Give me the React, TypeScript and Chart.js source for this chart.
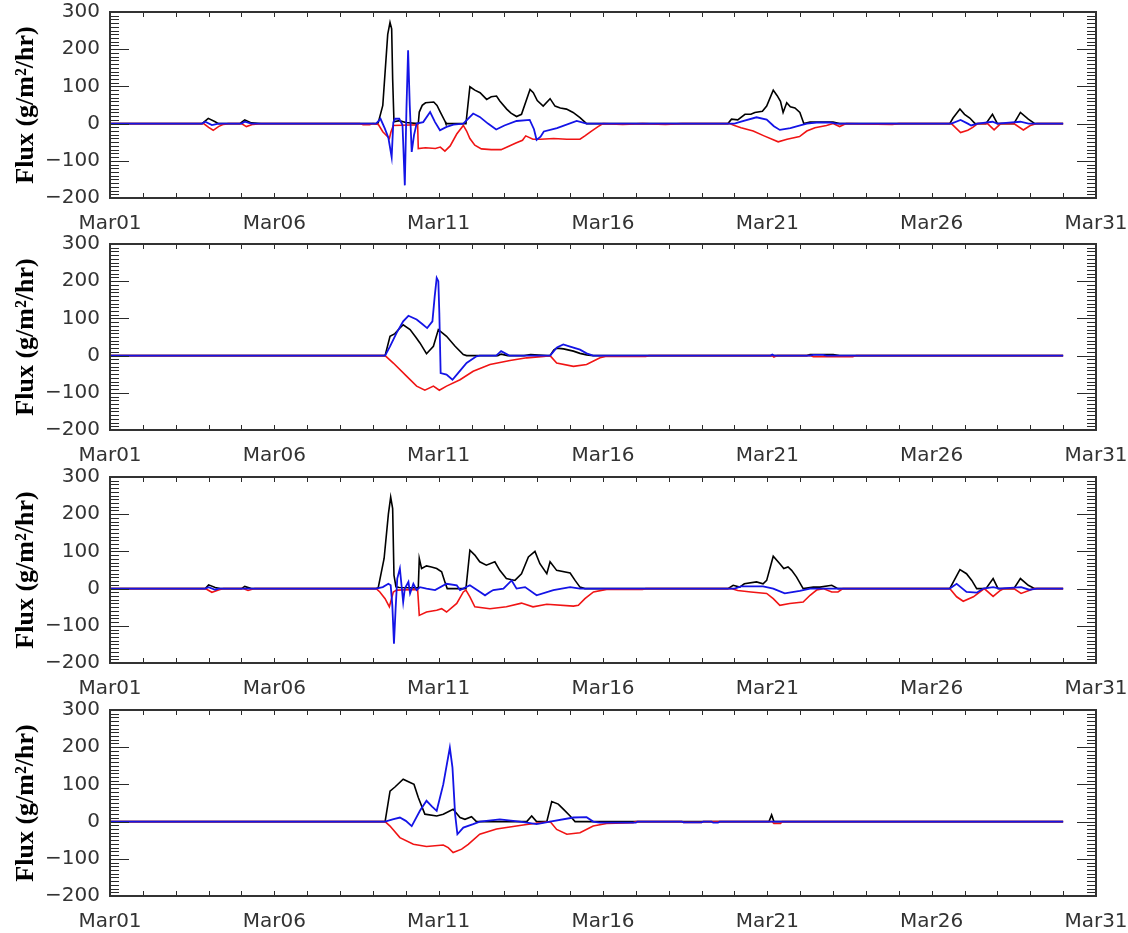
import React, { useEffect, useRef } from "react";
import { Chart, registerables } from "chart.js";

Chart.register(...registerables);

type Pt = [number, number];

// x in days after Mar01 00:00
const xTickDays = [0, 5, 10, 15, 20, 25, 30];
const xTickLabels = ["Mar01", "Mar06", "Mar11", "Mar16", "Mar21", "Mar26", "Mar31"];
const yTickValues = [-200, -100, 0, 100, 200, 300];
const yTickLabels = ["\u2212200", "\u2212100", "0", "100", "200", "300"];
const yTitle = "Flux (g/m\u00B2/hr)";

// ---------- Panel 1 ----------
const panel1Black: Pt[] = [[0,0],[2.8,0],[2.99,14],[3.2,5],[3.3,0],[3.95,0],[4.1,10],[4.3,2],[4.6,0],[8.1,0],[8.16,2],[8.3,49],[8.45,240],[8.52,272],[8.57,255],[8.6,120],[8.64,5],[8.8,8],[9.0,3],[9.38,0],[9.41,31],[9.5,49],[9.6,56],[9.85,58],[9.95,49],[10.05,31],[10.2,5],[10.22,0],[10.83,0],[10.95,99],[11.1,90],[11.26,83],[11.46,65],[11.6,72],[11.76,74],[11.86,61],[12.07,39],[12.2,28],[12.37,19],[12.52,25],[12.78,92],[12.88,83],[13.0,62],[13.18,47],[13.39,67],[13.54,47],[13.7,42],[13.89,39],[14.09,30],[14.3,16],[14.5,0],[18.8,0],[18.91,12],[19.1,10],[19.32,25],[19.5,25],[19.62,30],[19.85,33],[19.98,47],[20.18,90],[20.3,75],[20.4,60],[20.48,30],[20.59,56],[20.7,45],[20.84,42],[20.99,30],[21.05,15],[21.11,0],[21.3,4],[22.0,4],[22.2,0],[25.55,0],[25.65,15],[25.86,39],[26.0,25],[26.16,15],[26.32,0],[26.65,0],[26.85,25],[27.0,0],[27.5,0],[27.7,30],[27.94,12],[28.14,0],[29,0]];
const panel1Red: Pt[] = [[0,0],[2.85,0],[3.0,-10],[3.14,-18],[3.3,-8],[3.45,-2],[3.6,0],[4.0,0],[4.15,-8],[4.35,-2],[4.6,0],[7.6,0],[7.7,-3],[7.9,-3],[8.0,0],[8.16,-2],[8.3,-22],[8.5,-40],[8.55,-22],[8.62,-5],[9.36,-3],[9.38,-67],[9.6,-65],[9.9,-67],[10.05,-63],[10.19,-74],[10.35,-60],[10.55,-28],[10.75,-5],[10.85,-20],[10.95,-40],[11.1,-58],[11.3,-68],[11.6,-70],[11.9,-70],[12.1,-62],[12.35,-52],[12.55,-45],[12.65,-33],[12.87,-42],[13.1,-42],[13.5,-40],[13.9,-42],[14.3,-42],[14.45,-33],[14.65,-20],[14.85,-8],[15.0,0],[15.6,-2],[16.2,0],[16.9,-2],[17.4,0],[18.85,0],[19.0,-5],[19.2,-11],[19.57,-20],[19.9,-33],[20.33,-49],[20.6,-42],[20.98,-35],[21.2,-20],[21.45,-11],[21.8,-5],[22.0,0],[22.2,-8],[22.4,0],[23.8,-2],[24.0,0],[25.6,0],[25.88,-24],[26.1,-18],[26.25,-10],[26.4,0],[26.7,0],[26.9,-17],[27.1,0],[27.5,0],[27.79,-17],[28.0,-5],[28.2,0],[29,0]];
const panel1Blue: Pt[] = [[0,0],[2.8,0],[2.9,5],[3.1,-4],[3.3,0],[4.0,0],[4.1,5],[4.3,0],[8.1,0],[8.23,13],[8.36,-13],[8.47,-38],[8.57,-90],[8.62,3],[8.67,13],[8.8,13],[8.9,-4],[8.97,-166],[9.02,40],[9.07,197],[9.12,50],[9.18,-76],[9.25,-31],[9.33,0],[9.53,4],[9.74,31],[9.89,4],[10.04,-18],[10.24,-9],[10.45,-3],[10.75,0],[11.05,27],[11.25,18],[11.5,0],[11.75,-16],[12.0,-5],[12.37,7],[12.77,10],[12.9,-15],[12.98,-44],[13.1,-35],[13.2,-21],[13.6,-12],[14.2,7],[14.5,0],[19.0,0],[19.2,5],[19.67,17],[19.98,11],[20.2,-7],[20.38,-17],[20.7,-12],[21.0,-5],[21.2,0],[21.5,3],[21.9,3],[22.1,0],[25.6,0],[25.88,10],[26.1,0],[26.2,-5],[26.4,0],[26.85,5],[27.0,0],[27.7,5],[27.95,0],[29,0]];

// ---------- Panel 2 ----------
const panel2Black: Pt[] = [[0,0],[8.37,0],[8.52,52],[8.67,59],[8.8,72],[8.92,83],[9.13,70],[9.3,50],[9.43,34],[9.63,5],[9.84,25],[9.99,70],[10.1,62],[10.24,52],[10.5,25],[10.75,3],[10.85,0],[11.8,0],[11.9,4],[12.1,0],[12.6,0],[12.8,3],[13.3,0],[13.39,0],[13.5,15],[13.59,20],[13.8,18],[14.1,12],[14.3,6],[14.5,2],[14.7,0],[21.2,0],[21.3,3],[22.0,3],[22.2,0],[29,0]];
const panel2Red: Pt[] = [[0,0],[8.37,0],[8.62,-20],[9.03,-56],[9.33,-82],[9.58,-93],[9.84,-82],[10.02,-93],[10.24,-82],[10.65,-65],[11.05,-42],[11.56,-24],[12.17,-13],[12.68,-6],[13.2,-2],[13.39,0],[13.59,-20],[14.1,-29],[14.5,-24],[14.91,-6],[15.11,-2],[16.3,-2],[16.4,0],[20.15,0],[20.2,-4],[20.3,0],[21.3,0],[21.4,-3],[22.6,-3],[22.7,0],[29,0]];
const panel2Blue: Pt[] = [[0,0],[8.37,0],[8.52,25],[8.72,61],[8.92,92],[9.08,107],[9.33,97],[9.5,85],[9.65,74],[9.81,92],[9.88,160],[9.94,209],[9.99,200],[10.02,115],[10.06,-47],[10.24,-51],[10.42,-65],[10.59,-47],[10.85,-20],[11.15,-2],[11.25,0],[11.75,0],[11.9,12],[12.15,0],[13.39,0],[13.6,22],[13.79,30],[14.0,24],[14.3,16],[14.5,6],[14.7,0],[20.1,0],[20.15,3],[20.2,0],[21.3,0],[21.4,2],[21.7,2],[21.8,0],[29,0]];

// ---------- Panel 3 ----------
const panel3Black: Pt[] = [[0,0],[2.9,0],[3.0,10],[3.2,3],[3.35,0],[4.0,0],[4.1,6],[4.3,0],[8.1,0],[8.16,2],[8.34,81],[8.47,200],[8.54,246],[8.6,215],[8.64,36],[8.7,5],[8.8,3],[9.38,2],[9.41,81],[9.48,54],[9.63,61],[9.78,58],[9.94,54],[10.09,45],[10.19,18],[10.26,0],[10.83,0],[10.95,103],[11.1,90],[11.25,72],[11.45,63],[11.71,72],[11.86,49],[12.06,27],[12.32,22],[12.52,40],[12.73,85],[12.93,100],[13.08,67],[13.29,40],[13.39,72],[13.59,49],[14.0,42],[14.15,22],[14.3,4],[14.45,0],[18.8,0],[18.96,9],[19.16,4],[19.3,13],[19.67,18],[19.87,13],[19.98,22],[20.18,87],[20.38,67],[20.5,54],[20.63,58],[20.74,49],[20.89,31],[21.09,0],[21.4,4],[21.6,4],[21.96,9],[22.15,0],[25.55,0],[25.86,51],[26.06,40],[26.22,22],[26.37,0],[26.65,0],[26.87,27],[27.02,0],[27.5,0],[27.7,27],[27.94,9],[28.14,0],[29,0]];
const panel3Red: Pt[] = [[0,0],[2.9,0],[3.1,-10],[3.3,-4],[3.45,0],[4.05,0],[4.2,-5],[4.4,0],[8.1,0],[8.21,-9],[8.37,-27],[8.5,-49],[8.62,-9],[8.72,-4],[9.36,-2],[9.41,-72],[9.63,-63],[9.94,-58],[10.09,-54],[10.24,-63],[10.55,-40],[10.75,-9],[10.83,-4],[10.95,-22],[11.1,-49],[11.56,-54],[12.06,-49],[12.52,-39],[12.87,-49],[13.29,-42],[14.1,-47],[14.25,-45],[14.45,-27],[14.71,-9],[15.11,-2],[16.2,-2],[16.3,0],[18.9,0],[19.1,-5],[19.5,-9],[19.98,-13],[20.18,-27],[20.38,-45],[20.68,-40],[21.09,-36],[21.3,-18],[21.5,-4],[21.7,0],[21.96,-9],[22.15,-9],[22.3,0],[25.55,0],[25.76,-22],[25.96,-34],[26.27,-22],[26.47,-9],[26.6,0],[26.87,-21],[27.07,-6],[27.2,0],[27.5,0],[27.72,-13],[28.0,-4],[28.1,0],[29,0]];
const panel3Blue: Pt[] = [[0,0],[2.9,0],[3.0,4],[3.2,-3],[3.3,0],[8.1,0],[8.3,4],[8.47,13],[8.54,9],[8.59,-45],[8.64,-148],[8.69,-54],[8.74,27],[8.82,54],[8.87,9],[8.92,-36],[8.97,0],[9.08,18],[9.13,-13],[9.23,13],[9.33,-4],[9.43,4],[9.63,0],[9.89,-4],[10.24,13],[10.55,9],[10.65,-4],[10.95,9],[11.26,-9],[11.41,-18],[11.56,-9],[11.66,-4],[11.97,0],[12.22,22],[12.37,0],[12.63,4],[12.98,-18],[13.49,-4],[14.0,4],[14.3,0],[19.0,0],[19.2,6],[19.87,6],[20.18,0],[20.53,-13],[20.99,-6],[21.3,0],[25.55,0],[25.76,13],[26.06,-9],[26.37,-11],[26.57,0],[26.87,4],[27.07,0],[27.72,4],[27.97,-3],[28.2,0],[29,0]];

// ---------- Panel 4 ----------
const panel4Black: Pt[] = [[0,0],[8.37,0],[8.52,82],[8.67,93],[8.92,114],[9.13,105],[9.25,100],[9.38,65],[9.58,20],[9.94,15],[10.14,20],[10.44,33],[10.65,11],[10.8,6],[11.0,13],[11.15,0],[12.68,0],[12.83,15],[12.98,0],[13.29,0],[13.44,54],[13.64,47],[13.8,33],[14.0,15],[14.15,0],[20.05,0],[20.13,18],[20.2,0],[29,0]];
const panel4Red: Pt[] = [[0,0],[8.37,0],[8.52,-12],[8.82,-43],[9.23,-61],[9.63,-67],[10.14,-63],[10.29,-70],[10.44,-83],[10.7,-74],[10.9,-61],[11.25,-34],[11.76,-20],[12.57,-9],[13.08,-3],[13.39,0],[13.59,-21],[13.9,-34],[14.3,-30],[14.7,-12],[15.11,-5],[15.92,-3],[16.0,0],[17.4,0],[17.45,-2],[18.0,-2],[18.05,0],[20.15,0],[20.2,-5],[20.4,-5],[20.45,0],[29,0]];
const panel4Blue: Pt[] = [[0,0],[8.37,0],[8.6,6],[8.82,11],[9.0,2],[9.18,-12],[9.43,29],[9.63,56],[9.8,40],[9.94,29],[10.14,100],[10.34,199],[10.42,145],[10.5,20],[10.57,-34],[10.75,-16],[11.05,-7],[11.25,0],[11.86,6],[12.47,0],[12.98,-7],[13.39,0],[14.1,11],[14.5,12],[14.7,0],[14.9,-3],[16.0,-3],[16.05,0],[17.4,0],[17.45,-2],[18.0,-2],[18.05,0],[18.3,0],[18.35,-3],[18.5,-3],[18.55,0],[29,0]];

const BLACK = "#000000";
const RED = "#f01414";
const BLUE = "#1414e6";

const panels = [
  { black: panel1Black, red: panel1Red, blue: panel1Blue },
  { black: panel2Black, red: panel2Red, blue: panel2Blue },
  { black: panel3Black, red: panel3Red, blue: panel3Blue },
  { black: panel4Black, red: panel4Red, blue: panel4Blue },
];

const plotTops = [12, 244, 477, 710];
const CANVAS_W = 1128;
const CANVAS_H = 234;

const framePlugin = {
  id: "idlFrame",
  afterDraw(chart: any) {
    const { ctx, chartArea } = chart;
    const { left, right, top, bottom } = chartArea;
    const xs = chart.scales.x;
    const ys = chart.scales.y;
    ctx.save();
    ctx.strokeStyle = "#2a2a2a";
    ctx.lineWidth = 1;
    ctx.beginPath();
    for (let d = 0; d <= 30; d += 1) {
      const px = Math.round(xs.getPixelForValue(d)) + 0.5;
      ctx.moveTo(px, bottom);
      ctx.lineTo(px, bottom - 5);
      ctx.moveTo(px, top);
      ctx.lineTo(px, top + 5);
    }
    for (let v = -200; v <= 300; v += 10) {
      const py = Math.round(ys.getPixelForValue(v)) + 0.5;
      const len = v % 100 === 0 ? 19 : 9;
      ctx.moveTo(left, py);
      ctx.lineTo(left + len, py);
      ctx.moveTo(right, py);
      ctx.lineTo(right - len, py);
    }
    ctx.stroke();
    ctx.lineWidth = 2;
    ctx.strokeStyle = "#333333";
    ctx.strokeRect(left, top, right - left, bottom - top);
    ctx.restore();
  },
};

function toXY(pts: Pt[]) {
  return pts.map(([x, y]) => ({ x, y }));
}

function Panel({ black, red, blue, top }: { black: Pt[]; red: Pt[]; blue: Pt[]; top: number }) {
  const ref = useRef<HTMLCanvasElement>(null);
  useEffect(() => {
    const common = { pointRadius: 0, tension: 0, fill: false };
    const chart = new Chart(ref.current as HTMLCanvasElement, {
      type: "line",
      data: {
        datasets: [
          { label: "blue", data: toXY(blue), borderColor: BLUE, borderWidth: 1.8, order: 1, ...common },
          { label: "red", data: toXY(red), borderColor: RED, borderWidth: 1.6, order: 2, ...common },
          { label: "black", data: toXY(black), borderColor: BLACK, borderWidth: 1.6, order: 3, ...common },
        ],
      },
      options: {
        responsive: false,
        animation: false,
        devicePixelRatio: 1,
        layout: { padding: { top: 12, right: 32, left: 0, bottom: 0 } },
        plugins: { legend: { display: false }, tooltip: { enabled: false } },
        scales: {
          x: {
            type: "linear",
            min: 0,
            max: 30,
            grid: { display: false, drawTicks: false },
            border: { display: false },
            afterBuildTicks: (s: any) => {
              s.ticks = xTickDays.map((v) => ({ value: v }));
            },
            afterFit: (s: any) => {
              s.height = 36;
              s.paddingLeft = 0;
              s.paddingRight = 0;
            },
            ticks: {
              autoSkip: false,
              maxRotation: 0,
              minRotation: 0,
              padding: 14,
              color: "#333333",
              font: { family: "DejaVu Sans", size: 20 },
              callback: (v: any) => {
                const i = xTickDays.indexOf(Number(v));
                return i >= 0 ? xTickLabels[i] : "";
              },
            },
          },
          y: {
            type: "linear",
            min: -200,
            max: 300,
            grid: { display: false, drawTicks: false },
            border: { display: false },
            afterBuildTicks: (s: any) => {
              s.ticks = yTickValues.map((v) => ({ value: v }));
            },
            afterFit: (s: any) => {
              s.width = 110;
              s.paddingTop = 0;
              s.paddingBottom = 0;
            },
            ticks: {
              autoSkip: false,
              padding: 10,
              color: "#333333",
              font: { family: "DejaVu Sans", size: 20 },
              callback: (v: any) => {
                const i = yTickValues.indexOf(Number(v));
                return i >= 0 ? yTickLabels[i] : "";
              },
            },
            title: {
              display: true,
              text: yTitle,
              color: "#000000",
              font: { family: "Liberation Serif", size: 26, weight: "bold" },
              padding: { top: 11, bottom: 0 },
            },
          },
        },
      },
      plugins: [framePlugin],
    } as any);
    return () => chart.destroy();
  }, [black, red, blue]);
  return (
    <canvas
      ref={ref}
      width={CANVAS_W}
      height={CANVAS_H}
      style={{ position: "absolute", left: 0, top: top - 12, width: CANVAS_W, height: CANVAS_H }}
    />
  );
}

export default function App() {
  return (
    <div style={{ position: "absolute", left: 0, top: 0, width: 1128, height: 933, background: "#ffffff", overflow: "hidden" }}>
      {panels.map((p, i) => (
        <Panel key={i} black={p.black} red={p.red} blue={p.blue} top={plotTops[i]} />
      ))}
    </div>
  );
}
